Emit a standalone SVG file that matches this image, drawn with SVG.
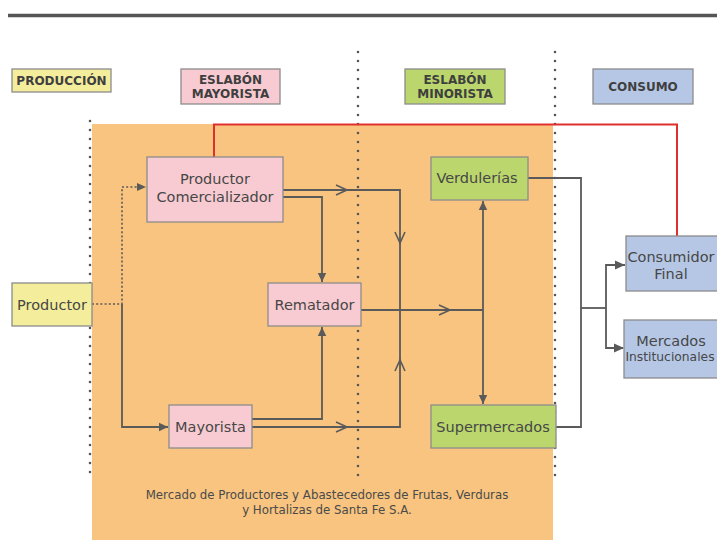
<svg xmlns="http://www.w3.org/2000/svg" width="717" height="553" viewBox="0 0 717 553">
<style>
.box{stroke:#8c8c8c;stroke-width:1.3}
.pink{fill:#f8cbd2}
.yellow{fill:#f4ed9c}
.green{fill:#bad66c}
.blue{fill:#b6c7e6}
.t{font-family:"DejaVu Sans",Verdana,sans-serif;font-size:14.5px;fill:#474747;text-anchor:middle}
.h{font-family:"DejaVu Sans",Verdana,sans-serif;font-size:12px;font-weight:bold;fill:#3f3f3f;text-anchor:middle}
.f{font-family:"DejaVu Sans",Verdana,sans-serif;font-size:11.8px;fill:#4a4a4a;text-anchor:middle}
.sep{stroke:#555;stroke-width:2.6;stroke-linecap:round;stroke-dasharray:0 9;fill:none}
.ln{stroke:#5a5a5a;stroke-width:1.8;fill:none}
.dot{stroke:#5a5a5a;stroke-width:1.6;stroke-dasharray:2 2.2;fill:none}
.chev{stroke:#5a5a5a;stroke-width:1.6;fill:none}
</style>
<defs>
<marker id="arr" markerUnits="userSpaceOnUse" markerWidth="10" markerHeight="10" viewBox="0 0 10 10" refX="9" refY="5" orient="auto">
<path d="M0,0.8 L9,5 L0,9.2 Z" fill="#5a5a5a"/>
</marker>
</defs>
<rect width="717" height="553" fill="#ffffff"/>
<line x1="8" y1="15.5" x2="717" y2="15.5" stroke="#555" stroke-width="3.5"/>
<rect x="92" y="124" width="461" height="416" fill="#f8c47f"/>
<g id="separators">
<line class="sep" x1="90" y1="121" x2="90" y2="476"/>
<line class="sep" x1="358" y1="52" x2="358" y2="476"/>
<line class="sep" x1="555" y1="52" x2="555" y2="476"/>
</g>
<text class="f" x="327" y="499">Mercado de Productores y Abastecedores de Frutas, Verduras</text>
<text class="f" x="327" y="514">y Hortalizas de Santa Fe S.A.</text>
<g id="headers">
<g id="h-produccion"><rect class="box yellow" x="12" y="69" width="99" height="23"/><text class="h" x="61.5" y="85">PRODUCCIÓN</text></g>
<g id="h-mayorista"><rect class="box pink" x="181" y="69" width="99" height="35"/><text class="h" x="230.5" y="84">ESLABÓN</text><text class="h" x="230.5" y="98">MAYORISTA</text></g>
<g id="h-minorista"><rect class="box green" x="405" y="69" width="100" height="35"/><text class="h" x="455" y="84">ESLABÓN</text><text class="h" x="455" y="98">MINORISTA</text></g>
<g id="h-consumo"><rect class="box blue" x="593" y="69" width="100" height="35"/><text class="h" x="643" y="91">CONSUMO</text></g>
</g>
<g id="connectors">
<polyline points="214,157 214,124.5 677,124.5 677,236" fill="none" stroke="#e0302e" stroke-width="2"/>
<polyline class="dot" points="92,304 122,304 122,187 137,187"/>
<path d="M137,183 L146,187 L137,191 Z" fill="#5a5a5a"/>
<polyline class="ln" points="122,304 122,427 168,427" marker-end="url(#arr)"/>
<polyline class="ln" points="283,190 400,190 400,427 252,427"/>
<polyline class="ln" points="283,197 322,197 322,282" marker-end="url(#arr)"/>
<polyline class="ln" points="252,419 322,419 322,327" marker-end="url(#arr)"/>
<line class="ln" x1="361" y1="310" x2="483" y2="310"/>
<line class="ln" x1="483" y1="310" x2="483" y2="201" marker-end="url(#arr)"/>
<line class="ln" x1="483" y1="310" x2="483" y2="404" marker-end="url(#arr)"/>
<path class="chev" d="M336,185 L347,190 L336,195"/>
<path class="chev" d="M395,232 L400,243 L405,232"/>
<path class="chev" d="M395,371 L400,360 L405,371"/>
<path class="chev" d="M336,422 L347,427 L336,432"/>
<path class="chev" d="M439,305 L450,310 L439,315"/>
<polyline class="ln" points="528,178 581,178 581,427 556,427"/>
<line class="ln" x1="581" y1="308" x2="606" y2="308"/>
<polyline class="ln" points="625,265 606,265 606,348 623,348"/>
<path d="M615,260.5 L625,265 L615,269.5 Z" fill="#5a5a5a"/>
<path d="M614,343.5 L624,348 L614,352.5 Z" fill="#5a5a5a"/>
</g>
<g id="productor"><rect class="box yellow" x="12" y="283" width="80" height="43"/><text class="t" x="52" y="310">Productor</text></g>
<g id="productor-comercializador"><rect class="box pink" x="147" y="157" width="136" height="65"/><text class="t" x="215" y="184">Productor</text><text class="t" x="215" y="202">Comercializador</text></g>
<g id="rematador"><rect class="box pink" x="268" y="283" width="93" height="43"/><text class="t" x="314.5" y="310">Rematador</text></g>
<g id="mayorista"><rect class="box pink" x="169" y="405" width="83" height="43"/><text class="t" x="210.5" y="432">Mayorista</text></g>
<g id="verdulerias"><rect class="box green" x="431" y="157" width="97" height="43"/><text class="t" x="477" y="183">Verdulerías</text></g>
<g id="supermercados"><rect class="box green" x="431" y="405" width="125" height="43"/><text class="t" x="493" y="432">Supermercados</text></g>
<g id="consumidor-final"><rect class="box blue" x="626" y="236" width="110" height="55"/><text class="t" x="671" y="262">Consumidor</text><text class="t" x="671" y="279">Final</text></g>
<g id="mercados-institucionales"><rect class="box blue" x="624" y="320" width="112" height="58"/><text class="t" x="671" y="346">Mercados</text><text class="t" x="670" y="361" style="font-size:12.3px">Institucionales</text></g>
</svg>
